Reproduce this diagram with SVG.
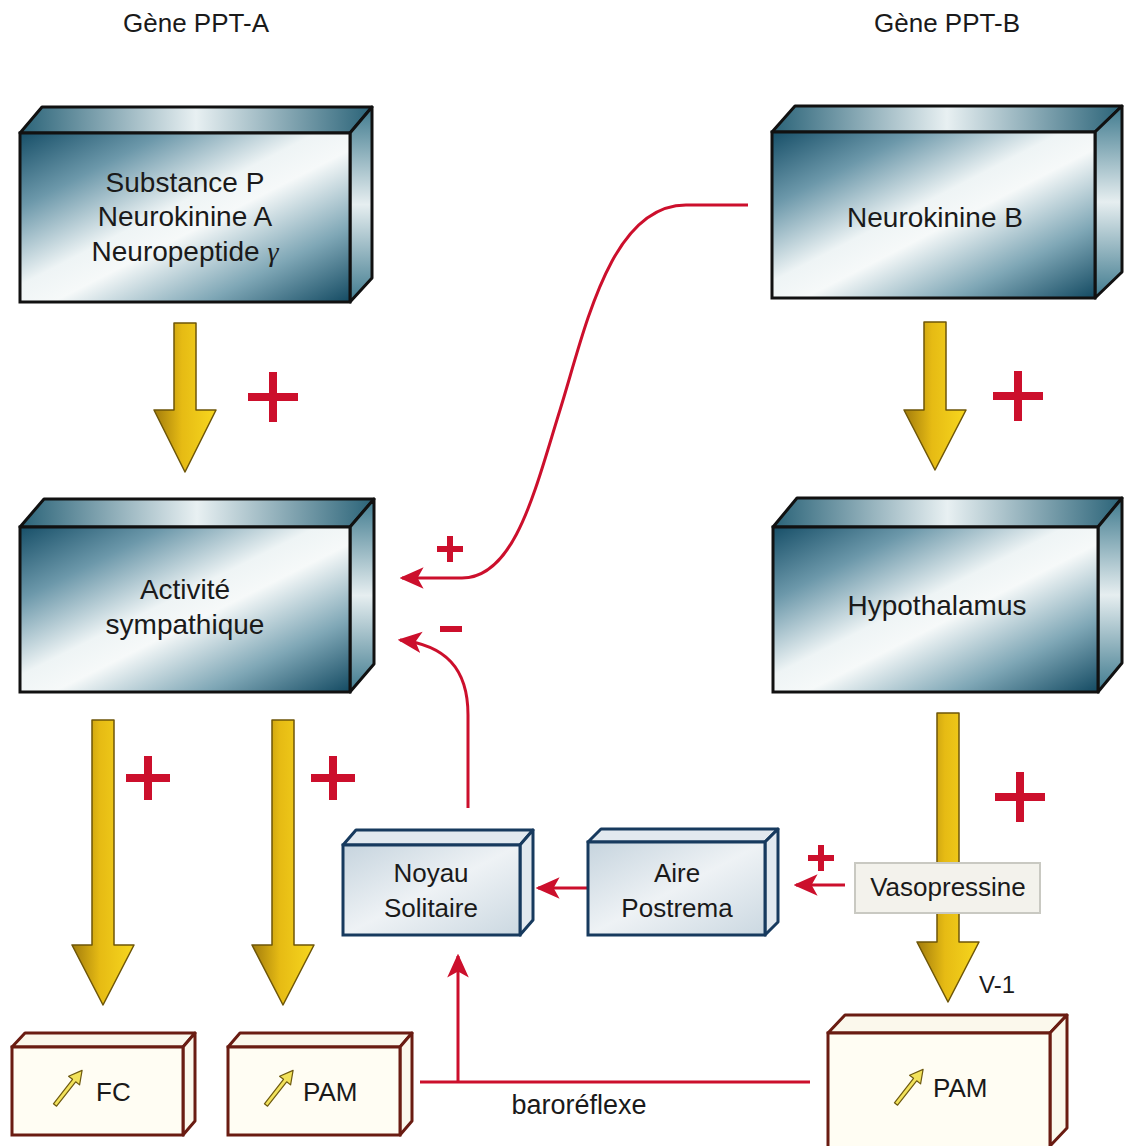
<svg xmlns="http://www.w3.org/2000/svg" width="1124" height="1146" viewBox="0 0 1124 1146">
<defs>
<linearGradient id="gFront" x1="0" y1="0" x2="1" y2="1">
<stop offset="0" stop-color="#174f68"/>
<stop offset="0.22" stop-color="#6c98aa"/>
<stop offset="0.45" stop-color="#eef4f5"/>
<stop offset="0.55" stop-color="#f6f9f9"/>
<stop offset="0.78" stop-color="#7fa7b6"/>
<stop offset="1" stop-color="#134a62"/>
</linearGradient>
<linearGradient id="gTop" x1="0" y1="0" x2="1" y2="0">
<stop offset="0" stop-color="#2a6378"/>
<stop offset="0.5" stop-color="#e8f0f2"/>
<stop offset="1" stop-color="#2a6378"/>
</linearGradient>
<linearGradient id="gSide" x1="0" y1="0" x2="0" y2="1">
<stop offset="0" stop-color="#3f7a8e"/>
<stop offset="0.5" stop-color="#e6eef0"/>
<stop offset="1" stop-color="#3f7a8e"/>
</linearGradient>
<linearGradient id="gSmall" x1="0" y1="0" x2="1" y2="1">
<stop offset="0" stop-color="#c6d4de"/>
<stop offset="0.5" stop-color="#eef2f5"/>
<stop offset="1" stop-color="#cbd8e1"/>
</linearGradient>
<linearGradient id="gYellow" x1="0" y1="0" x2="1" y2="0">
<stop offset="0" stop-color="#a27c0c"/>
<stop offset="0.45" stop-color="#e6bb14"/>
<stop offset="1" stop-color="#f7d71e"/>
</linearGradient>
<marker id="redHead" viewBox="0 0 10 10" refX="9" refY="5" markerWidth="8" markerHeight="8" orient="auto" markerUnits="strokeWidth">
<path d="M0,0.5 L10,5 L0,9.5 L2.5,5 Z" fill="#cc0f2c"/>
</marker>
</defs>
<style>
.big .front{fill:url(#gFront);stroke:#111;stroke-width:3}
.big .top{fill:url(#gTop);stroke:#111;stroke-width:3;stroke-linejoin:round}
.big .side{fill:url(#gSide);stroke:#111;stroke-width:3;stroke-linejoin:round}
.small .front{fill:url(#gSmall);stroke:#173a5e;stroke-width:3}
.small .top,.small .side{fill:#e2e9ef;stroke:#173a5e;stroke-width:3;stroke-linejoin:round}
.out .front{fill:#fffdf3;stroke:#6a1c12;stroke-width:3}
.out .top,.out .side{fill:#fbf8ec;stroke:#6a1c12;stroke-width:3;stroke-linejoin:round}
text{font-family:"Liberation Sans","DejaVu Sans",sans-serif;fill:#1a1a1a}
.lbl{font-size:28px;text-anchor:middle}
.sm{font-size:26px;text-anchor:middle}
.hdr{font-size:26px;text-anchor:middle}
.yarrow{fill:url(#gYellow);stroke:#6e5608;stroke-width:1.5;stroke-linejoin:round}
.red{fill:none;stroke:#cc0f2c;stroke-width:3}
.plus{fill:#cc0f2c}
.icon{fill:#f2e25a;stroke:#6e5a10;stroke-width:1.2;stroke-linejoin:round}
</style>

<text class="hdr" x="196" y="32">Gène PPT-A</text>
<text class="hdr" x="947" y="32">Gène PPT-B</text>

<g id="yellow-arrows">
<path class="yarrow" d="M174,323 H196 V410 H216 L185,472 L154,410 H174 Z"/>
<path class="yarrow" d="M924,322 H946 V410 H966 L935,470 L904,410 H924 Z"/>
<path class="yarrow" d="M92,720 H114 V945 H134 L103,1005 L72,945 H92 Z"/>
<path class="yarrow" d="M272,720 H294 V945 H314 L283,1005 L252,945 H272 Z"/>
<path class="yarrow" d="M937,713 H959 V942 H979 L948,1002 L917,942 H937 Z"/>
</g>

<g id="signs">
<rect class="plus" x="248" y="393" width="50" height="8"/><rect class="plus" x="269" y="372" width="8" height="50"/>
<rect class="plus" x="993" y="392" width="50" height="8"/><rect class="plus" x="1014" y="371" width="8" height="50"/>
<rect class="plus" x="126" y="774" width="44" height="8"/><rect class="plus" x="144" y="756" width="8" height="44"/>
<rect class="plus" x="311" y="774" width="44" height="8"/><rect class="plus" x="329" y="756" width="8" height="44"/>
<rect class="plus" x="995" y="793" width="50" height="8"/><rect class="plus" x="1016" y="772" width="8" height="50"/>
<rect class="plus" x="437" y="546" width="26" height="6"/><rect class="plus" x="447" y="536" width="6" height="26"/>
<rect class="plus" x="440" y="626" width="22" height="6"/>
<rect class="plus" x="808" y="855" width="26" height="6"/><rect class="plus" x="818" y="845" width="6" height="26"/>
</g>

<g id="connectors">
<path class="red" d="M748,205 H686 C610,205 585,330 560,410 C535,490 515,578 462,578 H402" marker-end="url(#redHead)"/>
<path class="red" d="M468,808 V715 C468,668 445,645 400,640" marker-end="url(#redHead)"/>
<path class="red" d="M588,888 H538" marker-end="url(#redHead)"/>
<path class="red" d="M845,885 H796" marker-end="url(#redHead)"/>
<path class="red" d="M420,1082 H810"/>
<path class="red" d="M458,1082 V956" marker-end="url(#redHead)"/>
<text x="579" y="1114" style="font-size:27px;text-anchor:middle">baroréflexe</text>
</g>

<g id="substance-p" class="big">
<polygon class="top" points="20,133 42,107 372,107 350,133"/>
<polygon class="side" points="350,133 372,107 372,278 350,302"/>
<rect class="front" x="20" y="133" width="330" height="169"/>
<text class="lbl" x="185" y="192">Substance P</text>
<text class="lbl" x="185" y="226">Neurokinine A</text>
<text class="lbl" x="185" y="261">Neuropeptide <tspan font-style="italic" font-family="Liberation Serif">γ</tspan></text>
</g>

<g id="neurokinine-b" class="big">
<polygon class="top" points="772,132 795,106 1122,106 1095,132"/>
<polygon class="side" points="1095,132 1122,106 1122,272 1095,298"/>
<rect class="front" x="772" y="132" width="323" height="166"/>
<text class="lbl" x="935" y="227">Neurokinine B</text>
</g>

<g id="activite" class="big">
<polygon class="top" points="20,527 44,499 374,499 350,527"/>
<polygon class="side" points="350,527 374,499 374,664 350,692"/>
<rect class="front" x="20" y="527" width="330" height="165"/>
<text class="lbl" x="185" y="599">Activité</text>
<text class="lbl" x="185" y="634">sympathique</text>
</g>

<g id="hypothalamus" class="big">
<polygon class="top" points="773,527 797,498 1122,498 1098,527"/>
<polygon class="side" points="1098,527 1122,498 1122,663 1098,692"/>
<rect class="front" x="773" y="527" width="325" height="165"/>
<text class="lbl" x="937" y="615">Hypothalamus</text>
</g>

<g id="noyau" class="small">
<polygon class="top" points="343,845 356,830 533,830 520,845"/>
<polygon class="side" points="520,845 533,830 533,920 520,935"/>
<rect class="front" x="343" y="845" width="177" height="90"/>
<text class="sm" x="431" y="882">Noyau</text>
<text class="sm" x="431" y="917">Solitaire</text>
</g>

<g id="aire" class="small">
<polygon class="top" points="588,842 601,829 778,829 765,842"/>
<polygon class="side" points="765,842 778,829 778,922 765,935"/>
<rect class="front" x="588" y="842" width="177" height="93"/>
<text class="sm" x="677" y="882">Aire</text>
<text class="sm" x="677" y="917">Postrema</text>
</g>

<g id="vasopressine">
<rect x="855" y="863" width="185" height="50" fill="#f3f2ec" stroke="#c9c9c2" stroke-width="2"/>
<text x="948" y="896" style="font-size:26px;text-anchor:middle">Vasopressine</text>
</g>
<text x="997" y="993" style="font-size:24px;text-anchor:middle">V-1</text>

<g id="fc" class="out">
<polygon class="top" points="12,1047 25,1033 195,1033 183,1047"/>
<polygon class="side" points="183,1047 195,1033 195,1121 183,1135"/>
<rect class="front" x="12" y="1047" width="171" height="88"/>
<g class="icon" transform="translate(55,1105) rotate(38)"><path d="M-2,0 V-31 H-7 L0,-44 L7,-31 H2 V0 Z"/></g>
<text x="96" y="1101" style="font-size:26px">FC</text>
</g>

<g id="pam-a" class="out">
<polygon class="top" points="228,1047 240,1033 412,1033 400,1047"/>
<polygon class="side" points="400,1047 412,1033 412,1121 400,1135"/>
<rect class="front" x="228" y="1047" width="172" height="88"/>
<g class="icon" transform="translate(266,1105) rotate(38)"><path d="M-2,0 V-31 H-7 L0,-44 L7,-31 H2 V0 Z"/></g>
<text x="303" y="1101" style="font-size:26px">PAM</text>
</g>

<g id="pam-b" class="out">
<polygon class="top" points="828,1033 845,1015 1067,1015 1050,1033"/>
<polygon class="side" points="1050,1033 1067,1015 1067,1128 1050,1146"/>
<rect class="front" x="828" y="1033" width="222" height="118"/>
<g class="icon" transform="translate(896,1104) rotate(38)"><path d="M-2,0 V-31 H-7 L0,-44 L7,-31 H2 V0 Z"/></g>
<text x="933" y="1097" style="font-size:26px">PAM</text>
</g>
</svg>
